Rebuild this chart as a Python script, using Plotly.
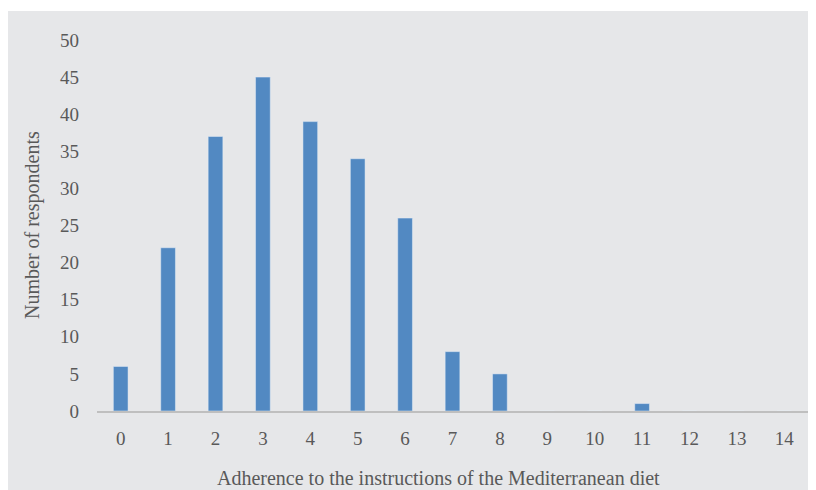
import plotly.graph_objects as go

scores = [str(i) for i in range(15)]
respondents = [6, 22, 37, 45, 39, 34, 26, 8, 5, 0, 0, 1, 0, 0, 0]
y_ticks = list(range(0, 55, 5))

# page body has an 8px default margin, so the figure is sized/offset accordingly
W, H = 816, 482
ml, mr, mt, mb = 89, 16, 32, 79
pw, ph = W - ml - mr, H - mt - mb

tick_font = dict(family="Liberation Serif, Times New Roman, serif", size=19, color="#595959")
title_font = dict(family="Liberation Serif, Times New Roman, serif", size=20, color="#595959")

fig = go.Figure(go.Bar(x=scores, y=respondents, marker_color="#5289c2", width=0.31))

fig.update_layout(
    width=W, height=H,
    margin=dict(l=ml, r=mr, t=mt, b=mb),
    paper_bgcolor="white", plot_bgcolor="rgba(0,0,0,0)",
    font=tick_font, showlegend=False,
    shapes=[dict(type="rect", xref="paper", yref="paper", layer="below",
                 x0=-ml / pw, x1=(W - ml) / pw,
                 y0=-mb / ph, y1=1 + (mt - 3) / ph,
                 fillcolor="#e6e7e9", line_width=0)],
    annotations=[
        dict(text="Adherence to the instructions of the Mediterranean diet",
             xref="paper", yref="paper", x=(430 - ml) / pw, y=-(470 - (H - mb)) / ph,
             showarrow=False, font=title_font, xanchor="center", yanchor="middle"),
        dict(text="Number of respondents", textangle=-90,
             xref="paper", yref="paper", x=(24 - ml) / pw, y=(H - mb - 217) / ph,
             showarrow=False, font=title_font, xanchor="center", yanchor="middle"),
    ],
)
fig.update_xaxes(type="category", range=[-0.5, 14.5], showgrid=False, showline=True,
                 linecolor="#bfbfbf", linewidth=1.5, ticks="", ticklabelstandoff=9,
                 zeroline=False)
fig.update_yaxes(range=[0, 50], tickvals=y_ticks, showgrid=False, showline=False,
                 zeroline=False, ticks="", ticklabelstandoff=17)

fig.write_html("out.html")
